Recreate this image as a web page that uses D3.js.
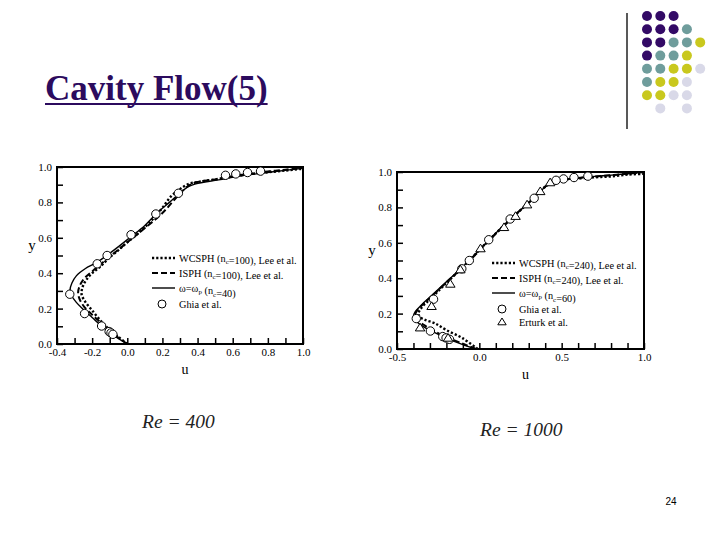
<!DOCTYPE html>
<html>
<head>
<meta charset="utf-8">
<script src="https://cdn.jsdelivr.net/npm/d3@7"></script>
<style>
    body { margin: 0; background: #fff; }
    svg { display: block; }
    text { font-family: "Liberation Serif", "Times New Roman", serif; }
</style>
</head>
<body>
<svg id="slide" width="720" height="540"></svg>
<script>
// ---- data ----
// Re = 400, each point is [u, y]
var wcsph400 = [[0.0,0.0],[-0.05,0.04],[-0.10,0.08],[-0.15,0.13],[-0.20,0.19],[-0.24,0.24],[-0.26,0.28],
    [-0.255,0.32],[-0.235,0.36],[-0.20,0.40],[-0.15,0.44],[-0.10,0.49],[-0.05,0.53],[0.0,0.575],[0.05,0.615],
    [0.10,0.66],[0.15,0.71],[0.20,0.77],[0.25,0.835],[0.30,0.875],[0.35,0.905],[0.40,0.915],[0.50,0.93],
    [0.60,0.945],[0.70,0.96],[0.80,0.97],[0.90,0.98],[1.0,0.99]];
var isph400 = [[0,0],[-0.05,0.035],[-0.10,0.075],[-0.15,0.12],[-0.20,0.165],[-0.245,0.21],[-0.27,0.25],
    [-0.28,0.29],[-0.27,0.33],[-0.245,0.37],[-0.20,0.41],[-0.14,0.46],[-0.08,0.51],[-0.03,0.55],[0.02,0.59],
    [0.10,0.655],[0.20,0.74],[0.30,0.85],[0.35,0.895],[0.40,0.915],[0.50,0.93],[0.60,0.948],[0.70,0.963],
    [0.80,0.975],[0.90,0.985],[1.0,1.0]];
var omega400 = [[0,0],[-0.05,0.03],[-0.10,0.065],[-0.15,0.105],[-0.20,0.15],[-0.25,0.195],[-0.29,0.235],
    [-0.318,0.275],[-0.326,0.305],[-0.315,0.345],[-0.29,0.385],[-0.24,0.425],[-0.175,0.46],[-0.11,0.505],
    [-0.05,0.55],[0.02,0.605],[0.10,0.67],[0.174,0.745],[0.24,0.80],[0.30,0.853],[0.35,0.89],[0.39,0.905],
    [0.52,0.927],[0.64,0.949],[0.83,0.973],[1.0,0.993]];
var ghia400 = [[0.75837,0.9766],[0.68439,0.9688],[0.61756,0.9609],[0.55892,0.9531],[0.29093,0.8516],
    [0.16256,0.7344],[0.02135,0.6172],[-0.11477,0.5],[-0.17119,0.4531],[-0.32726,0.2813],[-0.24299,0.1719],
    [-0.14612,0.1016],[-0.10338,0.0703],[-0.09266,0.0625],[-0.08186,0.0547]];

// Re = 1000
var wcsph1000 = [[-0.01,0],[-0.10,0.06],[-0.20,0.107],[-0.27,0.145],[-0.33,0.165],[-0.36,0.18],[-0.37,0.20],
    [-0.35,0.235],[-0.30,0.28],[-0.22,0.355],[-0.12,0.445],[-0.02,0.54],[0.08,0.635],[0.18,0.725],
    [0.28,0.81],[0.35,0.87],[0.42,0.93],[0.50,0.955],[0.60,0.963],[0.70,0.97],[0.80,0.975],[0.90,0.985],[1.0,0.99]];
var isph1000 = [[-0.02,0],[-0.10,0.03],[-0.20,0.067],[-0.28,0.105],[-0.335,0.135],[-0.375,0.165],[-0.39,0.19],
    [-0.38,0.215],[-0.34,0.255],[-0.27,0.315],[-0.19,0.385],[-0.09,0.47],[0.01,0.565],[0.11,0.66],[0.21,0.75],
    [0.30,0.83],[0.36,0.885],[0.41,0.925],[0.46,0.945],[0.52,0.958],[0.60,0.966],[0.70,0.974],[0.80,0.982],
    [0.90,0.99],[1.0,1.0]];
var omega1000 = [[-0.02,0],[-0.10,0.025],[-0.20,0.062],[-0.28,0.097],[-0.34,0.126],[-0.385,0.16],[-0.40,0.185],
    [-0.39,0.21],[-0.35,0.25],[-0.28,0.31],[-0.20,0.38],[-0.10,0.465],[0.0,0.56],[0.10,0.655],[0.20,0.745],
    [0.30,0.825],[0.35,0.87],[0.40,0.915],[0.45,0.94],[0.50,0.955],[0.60,0.967],[0.70,0.975],[0.80,0.982],
    [0.90,0.99],[1.0,1.0]];
var ghia1000 = [[0.65928,0.9766],[0.57492,0.9688],[0.51117,0.9609],[0.46604,0.9531],[0.33304,0.8516],
    [0.18719,0.7344],[0.05702,0.6172],[-0.06080,0.5],[-0.10648,0.4531],[-0.27805,0.2813],[-0.38289,0.1719],
    [-0.29730,0.1016],[-0.22220,0.0703],[-0.20196,0.0625],[-0.18109,0.0547]];
var erturk1000 = [[0.43,0.94],[0.37,0.89],[0.29,0.815],[0.22,0.75],[0.15,0.687],[0.007,0.567],[-0.115,0.448],
    [-0.176,0.367],[-0.29,0.241],[-0.36,0.12],[-0.19,0.062]];

var xLabels400 = [-0.4, -0.2, 0.0, 0.2, 0.4, 0.6, 0.8, 1.0];
var xLabels1000 = [-0.5, 0.0, 0.5, 1.0];
var yLabels = [0.0, 0.2, 0.4, 0.6, 0.8, 1.0];

var legend400 = ['WCSPH|100|Lee', 'ISPH|100|Lee', 'omega|40', 'Ghia'];
var legend1000 = ['WCSPH|240|Lee', 'ISPH|240|Lee', 'omega|60', 'Ghia', 'Erturk'];

// decoration dots, one string per row (P purple, T teal, Y yellow, L lavender, . empty)
var dotRows = ['PPP', 'PPPT', 'PPTTY', 'PTTY', 'TTYYL', 'TYYL', 'YYLL', '.L.L'];
var dotColors = { P: '#330a66', T: '#6f9d9c', Y: '#c9c81e', L: '#d9d9e8' };

var svg = d3.select('#slide');

// ---- slide furniture ----
var title = svg.append('text')
    .attr('x', 45)
    .attr('y', 100)
    .attr('font-size', 35)
    .attr('font-weight', 'bold')
    .attr('fill', '#2c0b5e')
    .text('Cavity Flow(5)');
var tb = title.node().getBBox();
svg.append('line')
    .attr('x1', 45).attr('x2', tb.x + tb.width)
    .attr('y1', 104).attr('y2', 104)
    .attr('stroke', '#2c0b5e')
    .attr('stroke-width', 2);

svg.append('line')
    .attr('x1', 627).attr('x2', 627)
    .attr('y1', 13).attr('y2', 129)
    .attr('stroke', '#222')
    .attr('stroke-width', 1.5);

var dots = [];
dotRows.forEach(function(row, r) {
    row.split('').forEach(function(c, i) {
        if (c !== '.') dots.push({ r: r, i: i, color: dotColors[c] });
    });
});
svg.append('g').selectAll('circle').data(dots)
    .enter().append('circle')
        .attr('cx', d => 647 + d.i * 13.3)
        .attr('cy', d => 16 + d.r * 13.2)
        .attr('r', 5)
        .attr('fill', d => d.color);

svg.append('text')
    .attr('x', 671).attr('y', 505)
    .attr('text-anchor', 'middle')
    .style('font-family', '"Liberation Sans", Arial, sans-serif')
    .attr('font-size', 10)
    .text('24');

// ---- panels ----
var styles = {
    WCSPH: { dash: '2.2,2', width: 2.4 },
    ISPH: { dash: '6,3', width: 2 },
    omega: { dash: null, width: 1.4 },
};

function legendText(sel, key) {
    var p = key.split('|');
    function sub(t) {
        sel.append('tspan').attr('font-size', 7).attr('dy', 2.5).text(t);
        sel.append('tspan').attr('dy', -2.5).text('');
    }
    if (p[0] === 'WCSPH' || p[0] === 'ISPH') {
        sel.append('tspan').text(p[0] + ' (n');
        sub('c');
        sel.append('tspan').text('=' + p[1] + '), Lee et al.');
    } else if (p[0] === 'omega') {
        sel.append('tspan').text('\u03c9=\u03c9');
        sub('p');
        sel.append('tspan').text(' (n');
        sub('c');
        sel.append('tspan').text('=' + p[1] + ')');
    } else if (p[0] === 'Ghia') {
        sel.append('tspan').text('Ghia et al.');
    } else {
        sel.append('tspan').text('Erturk et al.');
    }
}

function triangle(g, x, y, s) {
    g.append('path')
        .attr('d', 'M' + x + ',' + (y - s) + 'L' + (x + s * 1.05) + ',' + (y + s * 0.7) +
                   'L' + (x - s * 1.05) + ',' + (y + s * 0.7) + 'Z')
        .attr('fill', 'white')
        .attr('stroke', 'black')
        .attr('stroke-width', 1);
}

function drawPanel(p) {
    var g = svg.append('g');
    var x = d3.scaleLinear().domain(p.xdomain).range([p.left, p.right]);
    var y = d3.scaleLinear().domain([0, 1]).range([p.bottom, p.top]);

    var xticks = d3.range(Math.round(p.xdomain[0] * 10), 11).map(i => i / 10);
    var yticks = d3.range(0, 11).map(i => i / 10);
    var has = (arr, v) => arr.some(a => Math.abs(a - v) < 1e-6);

    var xa = g.append('g')
        .attr('transform', 'translate(0,' + p.bottom + ')')
        .call(d3.axisBottom(x)
            .tickValues(xticks)
            .tickSize(-6)
            .tickPadding(4)
            .tickFormat(d => has(p.xlabels, d) ? d.toFixed(1) : ''));
    var ya = g.append('g')
        .attr('transform', 'translate(' + p.left + ',0)')
        .call(d3.axisLeft(y)
            .tickValues(yticks)
            .tickSize(-6)
            .tickPadding(5)
            .tickFormat(d => has(yLabels, d) ? d.toFixed(1) : ''));
    [xa, ya].forEach(function(a) {
        a.select('.domain').remove();
        a.selectAll('line').attr('stroke-width', 1.5);
        a.selectAll('text').attr('font-size', 11);
    });

    g.append('rect')
        .attr('x', p.left).attr('y', p.top)
        .attr('width', p.right - p.left).attr('height', p.bottom - p.top)
        .attr('fill', 'none')
        .attr('stroke', 'black')
        .attr('stroke-width', 2);

    var line = d3.line()
        .x(d => x(d[0]))
        .y(d => y(d[1]))
        .curve(d3.curveCatmullRom.alpha(0.5));

    p.lines.forEach(function(s) {
        g.append('path')
            .attr('d', line(s.data))
            .attr('fill', 'none')
            .attr('stroke', 'black')
            .attr('stroke-width', styles[s.kind].width)
            .attr('stroke-dasharray', styles[s.kind].dash);
    });

    g.append('g').selectAll('circle').data(p.ghia)
        .enter().append('circle')
            .attr('cx', d => x(d[0]))
            .attr('cy', d => y(d[1]))
            .attr('r', 4.2)
            .attr('fill', 'white')
            .attr('stroke', 'black')
            .attr('stroke-width', 1);

    if (p.erturk) {
        p.erturk.forEach(d => triangle(g, x(d[0]), y(d[1]), 4.5));
    }

    // legend
    p.legend.forEach(function(key, i) {
        var ly = p.legendY[i];
        var kind = key.split('|')[0];
        if (styles[kind]) {
            g.append('line')
                .attr('x1', p.legendX).attr('x2', p.legendX + 23)
                .attr('y1', ly).attr('y2', ly)
                .attr('stroke', 'black')
                .attr('stroke-width', styles[kind].width)
                .attr('stroke-dasharray', styles[kind].dash);
        } else if (kind === 'Ghia') {
            g.append('circle')
                .attr('cx', p.legendX + 10).attr('cy', ly)
                .attr('r', 4)
                .attr('fill', 'white').attr('stroke', 'black');
        } else {
            triangle(g, p.legendX + 10, ly, 4);
        }
        var t = g.append('text')
            .attr('x', p.legendX + 27)
            .attr('y', ly + 3.5)
            .attr('font-size', 10.3);
        legendText(t, key);
    });

    g.append('text')
        .attr('x', p.left - 25).attr('y', (p.top + p.bottom) / 2 - 6)
        .attr('text-anchor', 'middle')
        .attr('font-size', 15)
        .text('y');
    g.append('text')
        .attr('x', (p.left + p.right) / 2 + 5).attr('y', p.bottom + 30)
        .attr('text-anchor', 'middle')
        .attr('font-size', 14)
        .text('u');

    g.append('text')
        .attr('x', p.reX).attr('y', p.reY)
        .attr('font-size', 19.5)
        .attr('font-style', 'italic')
        .attr('fill', '#222')
        .text(p.re);
}

drawPanel({
    left: 57, right: 303, top: 167, bottom: 344,
    xdomain: [-0.4, 1.0], xlabels: xLabels400,
    lines: [
        { kind: 'WCSPH', data: wcsph400 },
        { kind: 'ISPH', data: isph400 },
        { kind: 'omega', data: omega400 },
    ],
    ghia: ghia400,
    legend: legend400, legendX: 152, legendY: [258, 273, 288, 304],
    re: 'Re = 400', reX: 142, reY: 428,
});

drawPanel({
    left: 397, right: 644, top: 172, bottom: 349,
    xdomain: [-0.5, 1.0], xlabels: xLabels1000,
    lines: [
        { kind: 'WCSPH', data: wcsph1000 },
        { kind: 'ISPH', data: isph1000 },
        { kind: 'omega', data: omega1000 },
    ],
    ghia: ghia1000,
    erturk: erturk1000,
    legend: legend1000, legendX: 492, legendY: [263, 278, 293, 309, 322],
    re: 'Re = 1000', reX: 480, reY: 436,
});
</script>
</body>
</html>
